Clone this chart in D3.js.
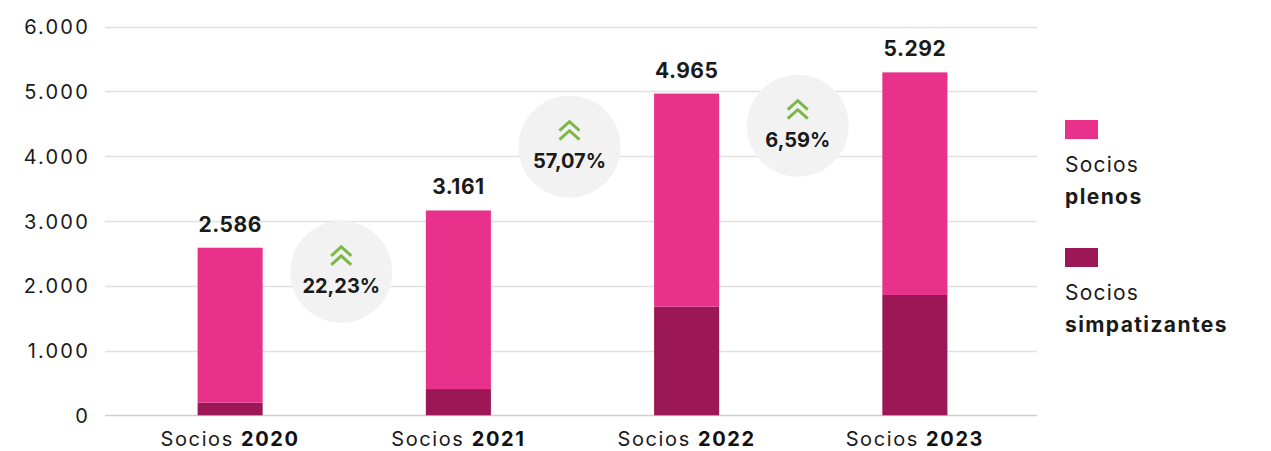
<!DOCTYPE html>
<html>
<head>
<meta charset="utf-8">
<script src="https://cdn.jsdelivr.net/npm/d3@7"></script>
<style>
  body { margin: 0; background: #fff; }
  text { font-family: Inter, "Open Sans", sans-serif; fill: #1a1a1a; }
</style>
</head>
<body>
<div id="chart"></div>
<script>
// data
var years = ["2020", "2021", "2022", "2023"];
var plenos = [2391, 2756, 3289, 3435];
var simpatizantes = [195, 405, 1676, 1857];
var totals = [2586, 3161, 4965, 5292];
var growth = ["22,23%", "57,07%", "6,59%"];
var yTicks = [0, 1000, 2000, 3000, 4000, 5000, 6000];
var legendLabels = [["Socios", "plenos"], ["Socios", "simpatizantes"]];

// layout only (where the growth badges sit, in axis units)
var badgeLevel = [2215, 4145, 4470];

var colors = { plenos: "#e8318a", simp: "#9b1756" };
var fmt = d3.formatLocale({ decimal: ",", thousands: ".", grouping: [3], currency: ["", "€"] }).format(",d");

var W = 1271, H = 451;
var svg = d3.select("#chart").append("svg")
    .attr("width", W)
    .attr("height", H);

var x = d3.scaleBand()
    .domain(years)
    .range([116, 1029])
    .paddingInner(0.715)
    .paddingOuter(0.3575);

var y = d3.scaleLinear()
    .domain([0, 6000])
    .range([415.3, 26.5]);

// gridlines
svg.append("g").selectAll("line")
    .data(yTicks)
    .join("line")
    .attr("x1", 105).attr("x2", 1037)
    .attr("y1", function(d) { return Math.round(y(d)) + 0.5; })
    .attr("y2", function(d) { return Math.round(y(d)) + 0.5; })
    .attr("stroke", function(d) { return d === 0 ? "#cfcfcf" : "#e1e1e1"; })
    .attr("stroke-width", 1.3);

// y labels
var yAxis = d3.axisLeft(y).tickValues(yTicks).tickFormat(fmt).tickSize(0).tickPadding(0);
var gy = svg.append("g").attr("transform", "translate(90,0)").call(yAxis);
gy.select(".domain").remove();
gy.selectAll("text")
    .attr("font-size", 20)
    .attr("font-family", "Inter, sans-serif")
    .attr("letter-spacing", 2.2)
    .attr("fill", "#2b2b2b")
    .attr("dy", "0.36em");

// bars
var stackData = years.map(function(yr, i) {
    return { year: yr, simp: simpatizantes[i], plenos: plenos[i] };
});
var series = d3.stack().keys(["simp", "plenos"])(stackData);

svg.append("g").selectAll("g")
    .data(series)
    .join("g")
    .attr("fill", function(d) { return colors[d.key]; })
    .selectAll("rect")
    .data(function(d) { return d; })
    .join("rect")
    .attr("x", function(d) { return x(d.data.year); })
    .attr("width", x.bandwidth())
    .attr("y", function(d) { return y(d[1]); })
    .attr("height", function(d) { return y(d[0]) - y(d[1]); });

// total labels
svg.append("g").selectAll("text")
    .data(totals)
    .join("text")
    .attr("x", function(d, i) { return x(years[i]) + x.bandwidth() / 2; })
    .attr("y", function(d) { return y(d) - 16; })
    .attr("text-anchor", "middle")
    .attr("font-size", 21)
    .attr("font-weight", 700)
    .attr("letter-spacing", 0.5)
    .attr("fill", "#111")
    .text(function(d) { return fmt(d); });

// x labels
var xl = svg.append("g").selectAll("text")
    .data(years)
    .join("text")
    .attr("x", function(d) { return x(d) + x.bandwidth() / 2; })
    .attr("y", 446)
    .attr("text-anchor", "middle")
    .attr("font-size", 20)
    .attr("letter-spacing", 1.6)
    .attr("fill", "#1a1a1a");
xl.append("tspan").text("Socios ");
xl.append("tspan").attr("font-weight", 700).attr("fill", "#111").text(function(d) { return d; });

// growth badges
var badges = svg.append("g").selectAll("g")
    .data(growth)
    .join("g")
    .attr("transform", function(d, i) {
        var cx = (x(years[i]) + x(years[i + 1]) + x.bandwidth()) / 2 - 3;
        return "translate(" + cx + "," + y(badgeLevel[i]) + ")";
    });

badges.append("circle")
    .attr("r", 51)
    .attr("fill", "#f2f2f2");

var chevron = d3.line();
[-25, -16].forEach(function(off) {
    badges.append("path")
        .attr("d", chevron([[-10, off + 9], [0, off], [10, off + 9]]))
        .attr("fill", "none")
        .attr("stroke", "#7cb748")
        .attr("stroke-width", 3);
});

badges.append("text")
    .attr("y", 21)
    .attr("text-anchor", "middle")
    .attr("font-size", 20)
    .attr("font-weight", 700)
    .attr("fill", "#111")
    .text(function(d) { return d; });

// legend
var legend = svg.append("g").selectAll("g")
    .data(legendLabels)
    .join("g")
    .attr("transform", function(d, i) { return "translate(1065," + (120 + i * 128) + ")"; });

legend.append("rect")
    .attr("width", 33)
    .attr("height", 19)
    .attr("fill", function(d, i) { return i === 0 ? colors.plenos : colors.simp; });

legend.append("text")
    .attr("y", 52)
    .attr("font-size", 21)
    .attr("letter-spacing", 1.2)
    .attr("fill", "#1a1a1a")
    .text(function(d) { return d[0]; });

legend.append("text")
    .attr("y", 84)
    .attr("font-size", 21)
    .attr("font-weight", 700)
    .attr("letter-spacing", 1.4)
    .attr("fill", "#111")
    .text(function(d) { return d[1]; });
</script>
</body>
</html>
